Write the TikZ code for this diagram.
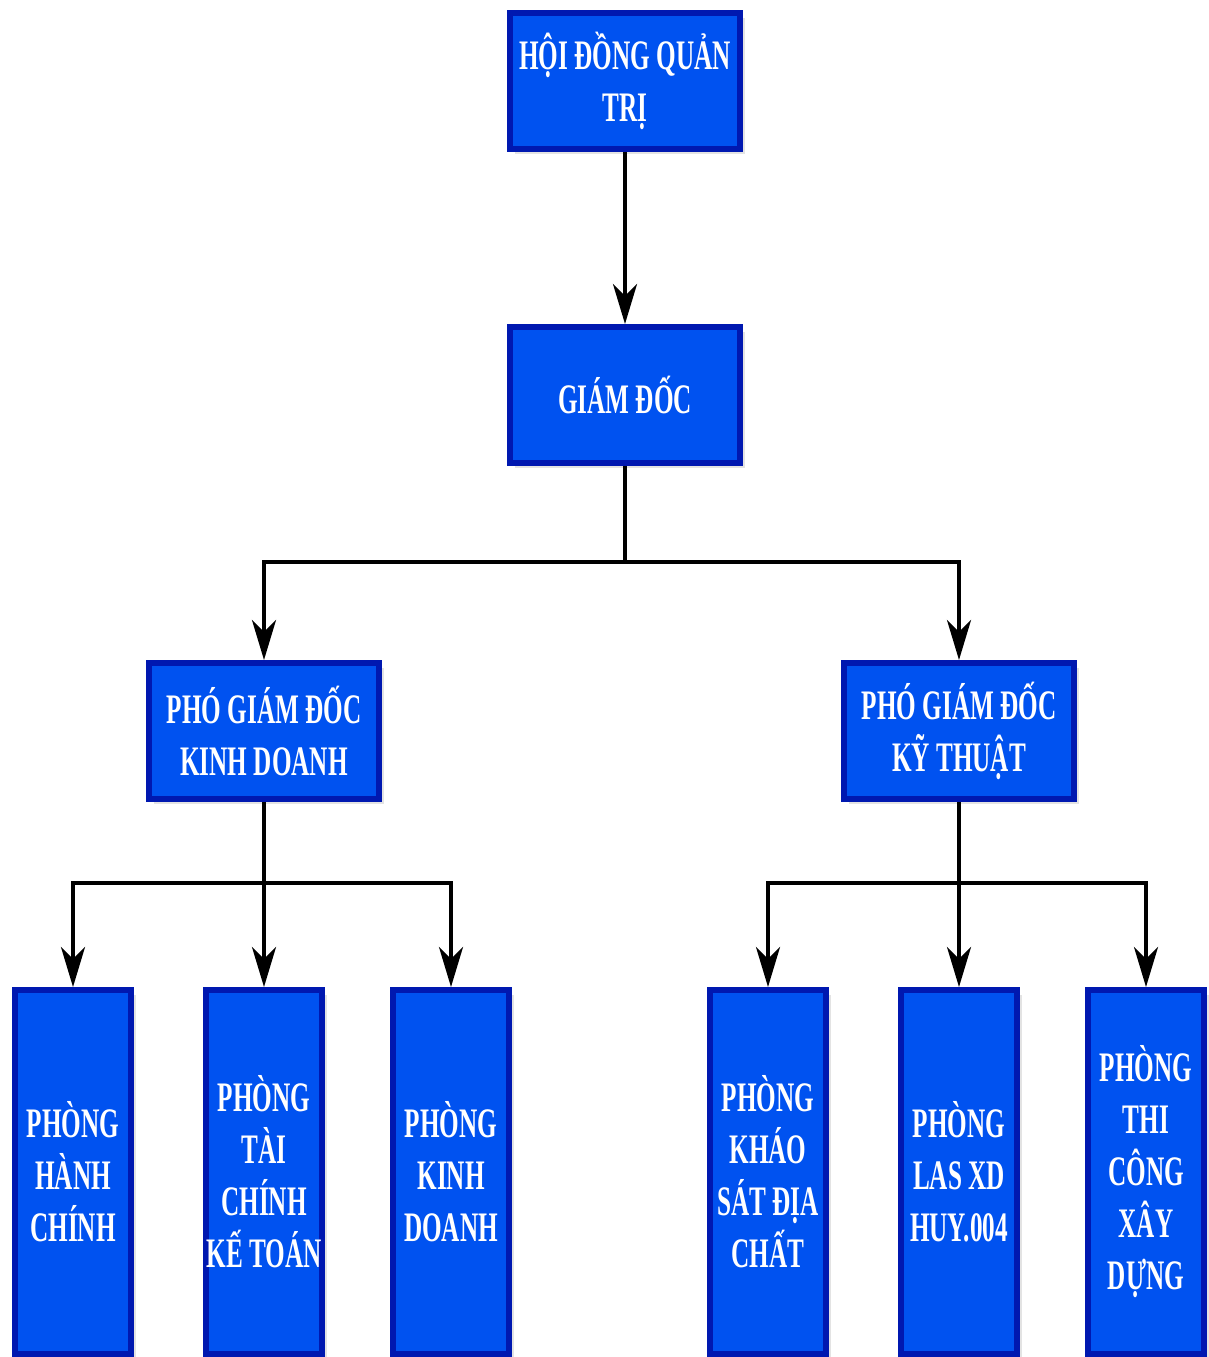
\documentclass[tikz,border=0pt]{standalone}
\usepackage{fontspec}
\newfontfamily\boxfont{Liberation Serif}[FakeStretch=0.6]
\usetikzlibrary{arrows.meta,shadows}
\definecolor{boxfill}{RGB}{0,82,240}
\definecolor{boxline}{RGB}{0,24,176}
\tikzset{
  orgbox/.style={draw=boxline, line width=6pt, fill=boxfill, text=white,
    align=center, inner sep=0pt,
    font=\boxfont\bfseries\fontsize{42}{52}\selectfont,
    drop shadow={opacity=0.22, shadow xshift=5pt, shadow yshift=-5pt}},
  topbox/.style={orgbox, minimum width=230pt, minimum height=136pt},
  lowbox/.style={orgbox, minimum width=116pt, minimum height=364pt},
  link/.style={line width=4pt, draw=black},
  arrowlink/.style={link, -{Stealth[length=40pt,width=24pt,inset=12pt]}}
}
\begin{document}
\begin{tikzpicture}[x=1pt,y=-1pt]
\useasboundingbox (0,0) rectangle (1208,1357);
\node[topbox] (hdqt) at (625,81) {HỘI ĐỒNG QUẢN\\TRỊ};
\node[topbox] (gd) at (625,395) {GIÁM ĐỐC};
\node[topbox] (pkdg) at (264,731) {PHÓ GIÁM ĐỐC\\KINH DOANH};
\node[topbox] (pktg) at (959,731) {PHÓ GIÁM ĐỐC\\KỸ THUẬT};
\node[lowbox] (phc) at (73,1172) {PHÒNG\\HÀNH\\CHÍNH};
\node[lowbox] (ptc) at (264,1172) {PHÒNG\\TÀI\\CHÍNH\\KẾ TOÁN};
\node[lowbox] (pkd) at (451,1172) {PHÒNG\\KINH\\DOANH};
\node[lowbox] (pks) at (768,1172) {PHÒNG\\KHÁO\\SÁT ĐỊA\\CHẤT};
\node[lowbox] (plas) at (959,1172) {PHÒNG\\LAS XD\\HUY.004};
\node[lowbox] (ptcxd) at (1146,1172) {PHÒNG\\THI\\CÔNG\\XÂY\\DỰNG};
\coordinate (busA) at (625,562);
\coordinate (busL) at (264,883);
\coordinate (busR) at (959,883);
\draw[arrowlink] (hdqt.south) -- (gd.north);
\draw[link] (gd.south) -- (busA);
\draw[arrowlink] (busA) -| (pkdg.north);
\draw[arrowlink] (busA) -| (pktg.north);
\draw[arrowlink] (pkdg.south) -- (ptc.north);
\draw[arrowlink] (busL) -| (phc.north);
\draw[arrowlink] (busL) -| (pkd.north);
\draw[arrowlink] (pktg.south) -- (plas.north);
\draw[arrowlink] (busR) -| (pks.north);
\draw[arrowlink] (busR) -| (ptcxd.north);
\end{tikzpicture}
\end{document}
